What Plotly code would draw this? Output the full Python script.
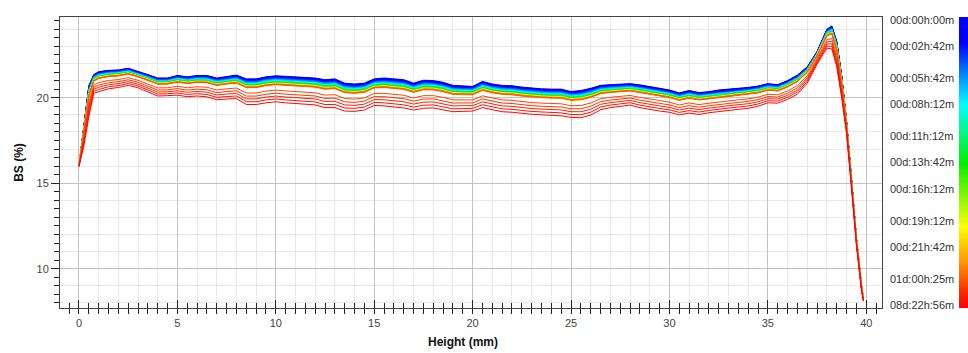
import plotly.graph_objects as go
from plotly.colors import sample_colorscale

# ---------------- data ----------------
HEIGHT_MM = [0, 0.25, 0.5, 0.75, 1.0, 1.5, 2.0, 2.5, 3.0, 3.5, 4.0, 4.5, 5.0, 5.5, 6.0, 6.5,
             7.0, 7.5, 8.0, 8.5, 9.0, 9.5, 10.0, 10.5, 11.0, 11.5, 12.0, 12.5, 13.0, 13.5,
             14.0, 14.5, 15.0, 15.5, 16.0, 16.5, 17.0, 17.5, 18.0, 18.5, 19.0, 19.5, 20.0,
             20.5, 21.0, 21.5, 22.0, 22.5, 23.0, 23.5, 24.0, 24.5, 25.0, 25.5, 26.0, 26.5,
             27.0, 27.5, 28.0, 28.5, 29.0, 29.5, 30.0, 30.5, 31.0, 31.5, 32.0, 32.5, 33.0,
             33.5, 34.0, 34.5, 35.0, 35.5, 36.0, 36.5, 37.0, 37.5, 38.0, 38.25, 38.5, 38.75,
             39.0, 39.25, 39.5, 39.75, 39.85]

# first scan (00d:00h:00m, top blue curve)
BS_FIRST = [16.0, 18.3, 20.7, 21.35, 21.52, 21.6, 21.62, 21.72, 21.55, 21.35, 21.15, 21.15,
            21.3, 21.22, 21.3, 21.3, 21.15, 21.25, 21.32, 21.1, 21.1, 21.22, 21.28, 21.25,
            21.22, 21.2, 21.15, 21.05, 21.1, 20.85, 20.8, 20.85, 21.1, 21.15, 21.08, 21.05,
            20.85, 21.02, 21.0, 20.9, 20.72, 20.7, 20.66, 20.95, 20.8, 20.72, 20.7, 20.62,
            20.55, 20.52, 20.5, 20.5, 20.36, 20.42, 20.55, 20.72, 20.76, 20.78, 20.82, 20.75,
            20.65, 20.58, 20.45, 20.28, 20.42, 20.3, 20.35, 20.45, 20.48, 20.55, 20.6, 20.68,
            20.82, 20.76, 21.0, 21.32, 21.8, 22.7, 24.0, 24.2, 23.3, 21.3, 18.6, 15.3, 11.8,
            9.1, 8.3]

# last scan (08d:22h:56m, bottom red curve)
BS_LAST = [16.0, 17.2, 18.9, 20.25, 20.35, 20.52, 20.6, 20.72, 20.58, 20.35, 20.1, 20.12,
           20.15, 20.06, 20.1, 20.05, 19.88, 19.92, 19.95, 19.6, 19.6, 19.7, 19.76, 19.7,
           19.66, 19.62, 19.58, 19.42, 19.42, 19.22, 19.2, 19.28, 19.55, 19.52, 19.46, 19.4,
           19.28, 19.38, 19.4, 19.3, 19.18, 19.2, 19.22, 19.42, 19.3, 19.18, 19.15, 19.08,
           19.03, 19.0, 18.96, 18.94, 18.85, 18.83, 18.98, 19.3, 19.42, 19.5, 19.57, 19.42,
           19.3, 19.22, 19.15, 19.0, 19.1, 19.02, 19.12, 19.2, 19.26, 19.32, 19.38, 19.5,
           19.7, 19.68, 19.9, 20.2, 20.85, 21.95, 22.9, 22.85, 21.8, 20.0, 17.9, 14.8, 11.4,
           8.8, 8.1]

# position of every scan between first (0) and last (1) curve
SCAN_FRACTION = [0.0, 0.015, 0.03, 0.045, 0.06, 0.075, 0.09, 0.10, 0.11, 0.12, 0.13, 0.14,
                 0.15, 0.16, 0.17, 0.18, 0.19, 0.20, 0.205, 0.21, 0.215, 0.22, 0.225, 0.23,
                 0.235, 0.24, 0.245, 0.25, 0.255, 0.26, 0.265, 0.27, 0.275, 0.28, 0.283,
                 0.286, 0.289, 0.292, 0.295, 0.298, 0.301, 0.304, 0.307, 0.31, 0.313, 0.316,
                 0.319, 0.322, 0.326, 0.34, 0.55, 0.67, 0.78, 0.89, 1.0]

CBAR_LABEL_SCANS = [0, 5, 11, 16, 22, 27, 32, 38, 43, 49, 54]
CBAR_LABELS = ["00d:00h:00m", "00d:02h:42m", "00d:05h:42m", "00d:08h:12m",
               "00d:11h:12m", "00d:13h:42m", "00d:16h:12m", "00d:19h:12m",
               "00d:21h:42m", "01d:00h:25m", "08d:22h:56m"]

X_RANGE = [-0.965, 40.8]
Y_RANGE = [7.702, 24.719]

COLORSCALE = [[0.0, "rgb(255,0,0)"], [0.04, "rgb(255,25,0)"], [0.16, "rgb(255,150,0)"],
              [0.28, "rgb(255,255,0)"], [0.50, "rgb(0,240,0)"], [0.70, "rgb(0,255,255)"],
              [0.80, "rgb(0,140,255)"], [0.91, "rgb(0,0,255)"], [1.0, "rgb(0,0,255)"]]

# ---------------- figure ----------------
W, H = 968, 353
ML, MR, MT, MB = 60, 0, 17, 45
PLOT_W = W - ML - MR
PLOT_H = H - MT - MB
XD = 822 / PLOT_W

n_scans = len(SCAN_FRACTION)
cmin, cmax = -(n_scans - 1) - 0.5, 0.5
scan_vals = [-k for k in range(n_scans)]
fig = go.Figure()

for k, frac in enumerate(SCAN_FRACTION):
    s = (scan_vals[k] - cmin) / (cmax - cmin)
    col = sample_colorscale(COLORSCALE, [s])[0]
    ys = [f + frac * (l - f) for f, l in zip(BS_FIRST, BS_LAST)]
    fig.add_trace(go.Scatter(x=HEIGHT_MM, y=ys, mode="lines",
                             line=dict(color=col, width=1), showlegend=False,
                             hoverinfo="skip"))

# colour bar drawn as a one-column heatmap on its own axes
fig.add_trace(go.Heatmap(
    x=[0], y=scan_vals, z=[[v] for v in scan_vals], colorscale=COLORSCALE,
    zmin=cmin, zmax=cmax, zsmooth="best", showscale=False, hoverinfo="skip",
    xaxis="x4", yaxis="y4"))

# helper traces for overlay axes
for xa, ya in [("x2", "y"), ("x3", "y"), ("x", "y2"), ("x", "y3")]:
    fig.add_trace(go.Scatter(x=[None], y=[None], xaxis=xa, yaxis=ya,
                             showlegend=False, hoverinfo="skip"))

tickfont = dict(family="Arial, Liberation Sans, sans-serif", size=11, color="#444")
titlefont = dict(family="Arial, Liberation Sans, sans-serif", size=12, color="#111")

fig.update_layout(
    width=W, height=H, margin=dict(l=ML, r=MR, t=MT, b=MB, autoexpand=False),
    paper_bgcolor="white", plot_bgcolor="white", hovermode=False,
    xaxis=dict(domain=[0, XD], range=X_RANGE, tickmode="linear", tick0=0, dtick=5,
               ticks="outside", ticklen=5, tickcolor="#222", tickfont=tickfont,
               showgrid=True, gridcolor="#c2c2c2", gridwidth=1,
               minor=dict(tickmode="linear", tick0=0, dtick=1, showgrid=True,
                          gridcolor="#e8e8e8", ticks=""),
               showline=True, linecolor="#444", mirror=True, zeroline=False),
    xaxis2=dict(domain=[0, XD], range=X_RANGE, overlaying="x", anchor="y",
                tickmode="linear", tick0=0, dtick=5, ticks="outside", ticklen=5,
                tickcolor="#222", showticklabels=False, showgrid=False, zeroline=False,
                minor=dict(tickmode="linear", tick0=0, dtick=0.5, ticks="outside",
                           ticklen=5, tickcolor="#222", showgrid=False)),
    xaxis3=dict(domain=[0, XD], range=X_RANGE, overlaying="x", anchor="y",
                tickmode="linear", tick0=0, dtick=5, ticks="inside", ticklen=8,
                tickcolor="#222", showticklabels=False, showgrid=False, zeroline=False,
                minor=dict(tickmode="linear", tick0=0, dtick=0.5, ticks="inside",
                           ticklen=5, tickcolor="#222", showgrid=False)),
    xaxis4=dict(domain=[(959 - ML) / PLOT_W, 1.0], range=[-0.5, 0.5], anchor="y4",
                visible=False, fixedrange=True),
    yaxis=dict(range=Y_RANGE, tickmode="linear", tick0=0, dtick=5, ticks="outside",
               ticklen=8, tickcolor="#222", tickfont=tickfont,
               showgrid=True, gridcolor="#c2c2c2", gridwidth=1,
               minor=dict(tickmode="linear", tick0=0, dtick=1, showgrid=True,
                          gridcolor="#e8e8e8", ticks=""),
               showline=True, linecolor="#444", mirror=True, zeroline=False,
               title=dict(text="<b>BS (%)</b>", font=titlefont, standoff=10)),
    yaxis3=dict(range=Y_RANGE, overlaying="y", anchor="x", side="left",
                tickmode="linear", tick0=0, dtick=0.5, ticks="outside", ticklen=5,
                tickcolor="#222", showticklabels=False, showgrid=False, zeroline=False),
    yaxis2=dict(range=[cmin, cmax], overlaying="y", anchor="free", side="right",
                position=829 / PLOT_W, tickmode="array",
                tickvals=[-k for k in CBAR_LABEL_SCANS], ticktext=CBAR_LABELS,
                ticks="", showgrid=False, zeroline=False, showline=False,
                tickfont=dict(family="Arial, Liberation Sans, sans-serif", size=11,
                              color="#333"), automargin=False),
    yaxis4=dict(domain=[0, 1], range=[cmin, cmax], anchor="x4", visible=False,
                fixedrange=True),
    annotations=[dict(text="<b>Height (mm)</b>", font=titlefont, showarrow=False,
                      xref="paper", yref="paper",
                      x=(463 - ML) / PLOT_W, y=(PLOT_H + MT - 342) / PLOT_H,
                      xanchor="center", yanchor="middle")],
)

# remove the browser's default 8px page margin so the figure sits at the origin
fig.write_html("out.html", config={"displayModeBar": False},
               post_script="document.body.style.margin='0';"
                           "document.body.style.overflow='hidden';")
